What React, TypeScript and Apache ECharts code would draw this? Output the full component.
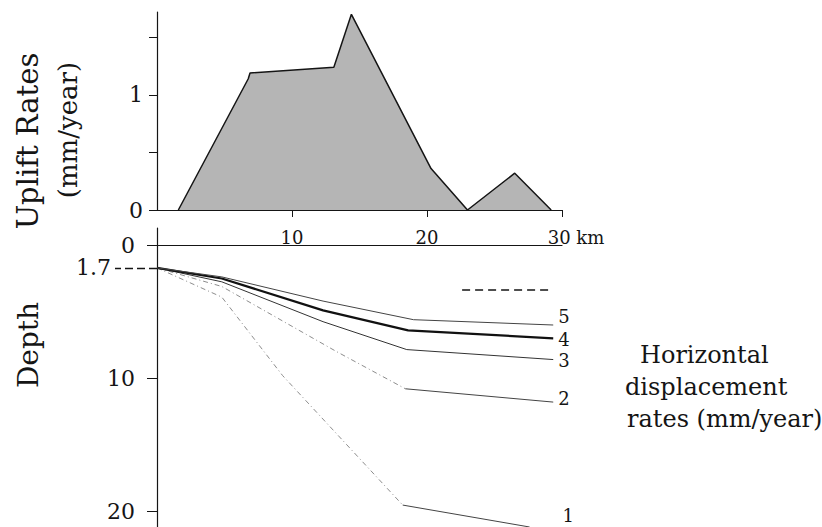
import React, { useEffect, useRef } from 'react';
import * as echarts from 'echarts';

const FONT = 'DejaVu Serif';
const INK = '#151515';

// Upper panel: uplift rate (mm/year) versus distance (km)
const upliftKm = [1.58, 6.76, 6.89, 13.1, 14.4, 20.3, 23.0, 26.5, 29.2];
const upliftRate = [0, 1.14, 1.19, 1.24, 1.7, 0.36, 0, 0.32, 0];

const xTicks = [10, 20, 30];
const upliftTicks = [0, 0.5, 1, 1.5];
const upliftTickLabels = [0, 1];
const depthTicks = [0, 10, 20];
const refDepth = [1.7];

// Lower panel: depth profiles of horizontal displacement rate contours
const line1Km = [0, 4.8, 9.3, 18.2, 27.6];
const line1Depth = [1.7, 3.9, 9.8, 19.55, 21.2];
const line2Km = [0, 4.8, 13.3, 18.4, 29.35];
const line2Depth = [1.7, 3.1, 8.0, 10.8, 11.8];
const line3Km = [0, 4.8, 12.3, 18.5, 29.35];
const line3Depth = [1.7, 2.75, 5.75, 7.85, 8.6];
const line4Km = [0, 4.8, 12.3, 18.6, 29.35];
const line4Depth = [1.7, 2.5, 4.9, 6.4, 7.0];
const line5Km = [0, 4.8, 12.3, 19.0, 29.35];
const line5Depth = [1.7, 2.38, 4.2, 5.6, 6.0];
const dashedKm = [22.6, 29.3];
const dashedDepth = [3.36, 3.36];

const zip = (a: number[], b: number[]) => a.map((v, i) => [v, b[i]]);

export default function App() {
  const ref = useRef<HTMLDivElement>(null);
  useEffect(() => {
    if (!ref.current) return;
    const chart = echarts.init(ref.current, undefined, { renderer: 'svg' });

    const labelBase = { fontFamily: FONT, color: INK };
    const mkLine = (
      name: string,
      km: number[],
      depth: number[],
      width: number,
      color: string,
      offset: number[]
    ) => ({
      type: 'line',
      name,
      xAxisIndex: 1,
      yAxisIndex: 1,
      data: zip(km, depth),
      symbol: 'none',
      lineStyle: { color, width, type: 'solid' },
      endLabel: {
        show: true,
        formatter: name,
        distance: 5,
        offset,
        fontFamily: FONT,
        fontSize: 18,
        color: INK,
      },
      z: 3,
    });
    const mkSplit = (
      name: string,
      km: number[],
      depth: number[],
      offset: number[]
    ) => [
      {
        type: 'line',
        name: name + '-steep',
        xAxisIndex: 1,
        yAxisIndex: 1,
        data: zip(km.slice(0, 4), depth.slice(0, 4)),
        symbol: 'none',
        lineStyle: { color: '#808080', width: 0.9, type: [5, 3, 1, 3] },
      },
      mkLine(name, km.slice(3), depth.slice(3), 1, '#444', offset),
    ];

    chart.setOption({
      animation: false,
      backgroundColor: '#fff',
      grid: [
        { left: 157, top: 12, width: 405, height: 198 },
        { left: 157, top: 228, width: 405, height: 299 },
      ],
      xAxis: [
        {
          gridIndex: 0,
          type: 'value',
          min: 0,
          max: 30,
          axisLine: { onZero: false, lineStyle: { color: INK, width: 1.2 } },
          axisTick: { customValues: xTicks, length: 7, lineStyle: { color: INK } },
          axisLabel: {
            ...labelBase,
            customValues: xTicks,
            margin: 18,
            fontSize: 18,
            formatter: (v: number) => (v === 30 ? '{t|30 km}' : String(v)),
            rich: {
              t: { fontFamily: FONT, fontSize: 18, color: INK, padding: [0, 0, 0, 28] },
            },
          },
          splitLine: { show: false },
        },
        {
          gridIndex: 1,
          type: 'value',
          min: 0,
          max: 30,
          axisLine: { onZero: true, onZeroAxisIndex: 1, lineStyle: { color: INK, width: 1.2 } },
          axisTick: { show: false },
          axisLabel: { show: false },
          splitLine: { show: false },
        },
      ],
      yAxis: [
        {
          gridIndex: 0,
          type: 'value',
          position: 'left',
          min: 0,
          max: 1.72,
          axisLine: { show: true, lineStyle: { color: INK, width: 1.2 } },
          axisTick: { show: true, customValues: upliftTicks, length: 8, lineStyle: { color: INK } },
          axisLabel: { ...labelBase, customValues: upliftTickLabels, margin: 14, fontSize: 22 },
          splitLine: { show: false },
        },
        {
          gridIndex: 1,
          type: 'value',
          position: 'left',
          min: -1.3,
          max: 21.2,
          inverse: true,
          axisLine: { show: true, lineStyle: { color: INK, width: 1.2 } },
          axisTick: { show: true, customValues: depthTicks, length: 10, lineStyle: { color: INK } },
          axisLabel: { ...labelBase, customValues: depthTicks, margin: 22, fontSize: 22 },
          splitLine: { show: false },
        },
        {
          gridIndex: 1,
          type: 'value',
          position: 'left',
          offset: 0,
          min: -1.3,
          max: 21.2,
          inverse: true,
          axisLine: { show: false },
          axisTick: {
            show: true,
            customValues: refDepth,
            length: 42,
            lineStyle: { color: INK, width: 1.4, type: [8, 4] },
          },
          axisLabel: { ...labelBase, customValues: refDepth, margin: 46, fontSize: 22 },
          splitLine: { show: false },
        },
      ],
      series: [
        {
          type: 'line',
          name: 'uplift',
          xAxisIndex: 0,
          yAxisIndex: 0,
          data: zip(upliftKm, upliftRate),
          symbol: 'none',
          lineStyle: { color: INK, width: 1.5 },
          areaStyle: { color: '#b5b5b5', opacity: 1 },
        },
        ...mkSplit('1', line1Km, line1Depth, [28, -12]),
        ...mkSplit('2', line2Km, line2Depth, [0, -4]),
        mkLine('3', line3Km, line3Depth, 1, '#333', [0, 1]),
        mkLine('4', line4Km, line4Depth, 2.2, '#111', [0, 1]),
        mkLine('5', line5Km, line5Depth, 1, '#444', [0, -9]),
        {
          type: 'line',
          name: 'dashed',
          xAxisIndex: 1,
          yAxisIndex: 1,
          data: zip(dashedKm, dashedDepth),
          symbol: 'none',
          lineStyle: { color: INK, width: 1.6, type: [8, 5] },
        },
      ],
      graphic: [
        {
          type: 'text',
          x: 28,
          y: 141,
          rotation: Math.PI / 2,
          style: { text: 'Uplift Rates', fontFamily: FONT, fontSize: 29, fill: INK, align: 'center', verticalAlign: 'middle' },
        },
        {
          type: 'text',
          x: 68,
          y: 130,
          rotation: Math.PI / 2,
          style: { text: '(mm/year)', fontFamily: FONT, fontSize: 26, fill: INK, align: 'center', verticalAlign: 'middle' },
        },
        {
          type: 'text',
          x: 28,
          y: 345,
          rotation: Math.PI / 2,
          style: { text: 'Depth', fontFamily: FONT, fontSize: 28, fill: INK, align: 'center', verticalAlign: 'middle' },
        },
        {
          type: 'text',
          x: 640,
          y: 355,
          style: { text: 'Horizontal', fontFamily: FONT, fontSize: 24, fill: INK, align: 'left', verticalAlign: 'middle' },
        },
        {
          type: 'text',
          x: 625,
          y: 387,
          style: { text: 'displacement', fontFamily: FONT, fontSize: 24, fill: INK, align: 'left', verticalAlign: 'middle' },
        },
        {
          type: 'text',
          x: 627,
          y: 419,
          style: { text: 'rates (mm/year)', fontFamily: FONT, fontSize: 24, fill: INK, align: 'left', verticalAlign: 'middle' },
        },
      ],
    });
    return () => chart.dispose();
  }, []);
  return (
    <div
      ref={ref}
      style={{ position: 'fixed', left: 0, top: 0, width: 822, height: 527, background: '#fff' }}
    />
  );
}
